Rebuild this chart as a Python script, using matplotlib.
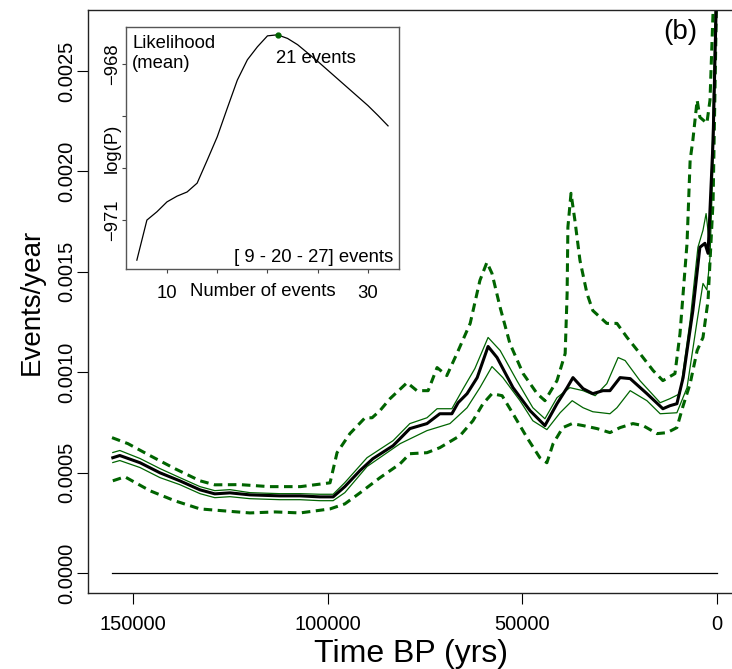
import matplotlib
matplotlib.use("Agg")
import matplotlib.pyplot as plt
import numpy as np

plt.rcParams["font.family"] = ["Liberation Sans", "DejaVu Sans"]

# ── main panel data (time in kyr BP, rate in 1e-3 events/yr) ──
mean_t = [155.2, 153.4, 148.2, 143.1, 138.0, 132.8, 129.0, 125.1, 120.0, 112.3, 107.1, 102.0,
          98.6, 95.6, 91.7, 88.4, 83.2, 78.9, 74.5, 71.2, 68.1, 66.5, 64.2, 61.6, 58.8, 56.5,
          52.4, 48.0, 44.2, 41.1, 38.5, 37.0, 34.4, 31.9, 29.3, 27.5, 24.9, 22.3, 18.0, 13.9,
          12.1, 10.3, 8.7, 6.2, 4.4, 3.1, 2.3, 1.0, 0.0]
mean_v = [0.574, 0.585, 0.549, 0.499, 0.459, 0.414, 0.394, 0.399, 0.389, 0.384, 0.384, 0.379,
          0.379, 0.430, 0.510, 0.569, 0.634, 0.719, 0.744, 0.793, 0.793, 0.848, 0.893, 0.973,
          1.128, 1.073, 0.923, 0.808, 0.734, 0.843, 0.923, 0.973, 0.918, 0.893, 0.908, 0.908,
          0.973, 0.968, 0.893, 0.818, 0.833, 0.843, 0.973, 1.307, 1.622, 1.642, 1.592, 2.156, 3.0]

hi_t = [155.2, 153.4, 148.2, 143.1, 138.0, 132.8, 129.0, 125.1, 120.0, 112.3, 107.1, 102.0,
        98.6, 95.6, 89.9, 83.2, 78.9, 74.5, 71.9, 68.1, 65.2, 62.2, 58.8, 55.7, 51.4, 47.3,
        44.2, 41.1, 37.8, 34.4, 31.3, 28.3, 25.4, 23.6, 19.8, 14.6, 12.1, 9.5, 6.9, 4.9, 3.6,
        2.8, 2.0, 1.3, 0.0]
hi_v = [0.600, 0.610, 0.570, 0.520, 0.475, 0.430, 0.410, 0.415, 0.400, 0.395, 0.395, 0.392,
        0.392, 0.450, 0.574, 0.659, 0.744, 0.773, 0.818, 0.818, 0.918, 1.018, 1.173, 1.108,
        0.958, 0.823, 0.768, 0.873, 0.923, 0.908, 0.883, 0.943, 1.073, 1.058, 0.958, 0.848,
        0.868, 0.893, 1.257, 1.622, 1.707, 1.790, 1.650, 2.060, 3.2]

lo_t = [155.2, 153.4, 148.2, 143.1, 138.0, 132.8, 129.0, 125.1, 120.0, 112.3, 107.1, 102.0,
        98.6, 95.6, 89.9, 81.4, 74.5, 68.6, 64.2, 60.9, 57.8, 55.0, 50.6, 47.3, 43.7, 40.3,
        37.2, 34.4, 31.9, 27.5, 25.7, 22.3, 18.0, 14.6, 10.3, 7.7, 5.1, 3.6, 2.6, 1.8, 1.0, 0.0]
lo_v = [0.550, 0.560, 0.525, 0.475, 0.440, 0.395, 0.375, 0.380, 0.370, 0.365, 0.365, 0.360,
        0.360, 0.400, 0.530, 0.644, 0.709, 0.744, 0.823, 0.923, 1.028, 0.973, 0.858, 0.758,
        0.714, 0.798, 0.858, 0.823, 0.803, 0.793, 0.823, 0.908, 0.858, 0.793, 0.798, 0.923,
        1.257, 1.442, 1.410, 1.570, 2.060, 3.0]

up_t = [155.4, 151.3, 145.6, 139.2, 132.8, 129.0, 122.5, 115.0, 107.0, 101.0, 99.4, 97.6,
        94.3, 90.4, 88.6, 86.6, 84.0, 79.6, 77.1, 74.2, 71.9, 69.4, 66.8, 63.4, 60.9, 59.1,
        57.8, 55.7, 53.2, 49.8, 46.2, 44.2, 41.1, 39.0, 38.5, 38.3, 37.5, 36.5, 35.2, 33.4,
        31.9, 28.3, 25.7, 23.1, 19.8, 16.4, 13.9, 10.8, 9.5, 7.7, 6.9, 6.2, 5.1, 4.4, 2.6,
        1.8, 1.0, 0.0]
up_v = [0.674, 0.644, 0.584, 0.519, 0.459, 0.439, 0.440, 0.430, 0.430, 0.445, 0.449, 0.599,
        0.694, 0.773, 0.773, 0.808, 0.868, 0.948, 0.908, 0.908, 1.023, 0.983, 1.093, 1.243,
        1.457, 1.547, 1.492, 1.322, 1.143, 0.993, 0.893, 0.858, 0.958, 1.093, 1.392, 1.722,
        1.891, 1.756, 1.557, 1.392, 1.307, 1.243, 1.243, 1.173, 1.093, 1.008, 0.958, 0.993,
        1.193, 1.642, 2.056, 2.156, 2.355, 2.270, 2.240, 2.355, 2.800, 3.5]

dn_t = [155.2, 152.1, 145.6, 139.2, 132.8, 126.4, 120.0, 113.5, 107.1, 99.4, 95.6, 91.7,
        86.6, 81.4, 78.9, 74.5, 71.2, 66.0, 62.7, 60.1, 57.8, 55.2, 52.4, 48.8, 45.5, 43.7,
        42.1, 39.6, 37.2, 34.4, 30.8, 27.5, 24.9, 21.6, 19.0, 15.4, 12.8, 10.3, 8.7, 6.9,
        5.1, 3.6, 2.3, 1.0, 0.0]
dn_v = [0.459, 0.479, 0.409, 0.359, 0.319, 0.309, 0.299, 0.304, 0.299, 0.319, 0.344, 0.399,
        0.474, 0.544, 0.594, 0.599, 0.624, 0.684, 0.758, 0.843, 0.893, 0.883, 0.793, 0.674,
        0.574, 0.549, 0.644, 0.724, 0.744, 0.734, 0.719, 0.699, 0.724, 0.744, 0.734, 0.694,
        0.699, 0.724, 0.833, 0.943, 1.108, 1.173, 1.357, 1.856, 3.0]

# ── inset data: mean log-likelihood vs number of events ──
n_events = list(range(7, 33))
loglik = [-971.77, -971.00, -970.84, -970.65, -970.54, -970.46, -970.29, -969.85, -969.40,
          -968.85, -968.31, -967.92, -967.67, -967.46, -967.44, -967.51, -967.63, -967.79,
          -967.95, -968.12, -968.29, -968.46, -968.63, -968.80, -968.99, -969.19]
best_n = 21

GREEN = "#006400"


def yrs(t):
    return np.asarray(t) * 1000.0


def rate(v):
    return np.asarray(v) * 1e-3


fig = plt.figure(figsize=(7.32, 6.69), dpi=100)
ax = fig.add_axes([88 / 732, 76 / 669, 653 / 732, 583 / 669])

ax.plot([155400, 0], [0, 0], color="black", lw=0.9)
ax.plot(yrs(up_t), rate(up_v), color=GREEN, lw=2.2, dashes=(2.8, 1.8))
ax.plot(yrs(dn_t), rate(dn_v), color=GREEN, lw=2.2, dashes=(2.8, 1.8))
ax.plot(yrs(hi_t), rate(hi_v), color=GREEN, lw=0.9)
ax.plot(yrs(lo_t), rate(lo_v), color=GREEN, lw=0.9)
ax.plot(yrs(mean_t), rate(mean_v), color="black", lw=2.2)

ax.set_xlim(161570, -6165)
ax.set_ylim(-0.0000998, 0.002804)
ax.set_xticks([150000, 100000, 50000, 0])
ax.set_xticklabels(["150000", "100000", "50000", "0"])
ax.set_yticks([0, 0.0005, 0.001, 0.0015, 0.002, 0.0025])
ax.set_yticklabels(["0.0000", "0.0005", "0.0010", "0.0015", "0.0020", "0.0025"],
                   rotation=90, va="center")
ax.tick_params(axis="both", direction="out", length=8, width=0.8, labelsize=14.5)
ax.tick_params(axis="x", pad=8)
ax.tick_params(axis="y", pad=0.7)
for s in ax.spines.values():
    s.set_linewidth(1.0)
    s.set_color("#222222")

fig.text(411 / 732, 7 / 669, "Time BP (yrs)", fontsize=23, ha="center", va="baseline")
fig.text(32 / 732, 1 - 302 / 669, "Events/year", fontsize=20, rotation=90,
         ha="center", va="center")
fig.text(680 / 732, 1 - 32 / 669, "(b)", fontsize=20, ha="center", va="center")

# ── inset ──
axi = fig.add_axes([126 / 732, 400 / 669, 273 / 732, 242 / 669])
axi.set_facecolor("white")
axi.plot(n_events, loglik, color="black", lw=0.9)
axi.plot(best_n, loglik[n_events.index(best_n)], "o", color=GREEN, ms=3.5)
axi.set_xlim(5.92, 33.09)
axi.set_ylim(-971.94, -967.29)
axi.set_xticks([10, 15, 20, 25, 30])
axi.set_xticklabels(["10", "", "", "", "30"])
axi.set_yticks([-968, -969, -970, -971])
axi.set_yticklabels(["\u2212968", "", "", "\u2212971"], rotation=90, va="center")
axi.tick_params(axis="both", direction="out", length=3.2, width=0.8, labelsize=13.3,
                color="#444444")
axi.tick_params(axis="x", pad=8)
axi.tick_params(axis="y", pad=0)
for s in axi.spines.values():
    s.set_linewidth(1.0)
    s.set_color("#555555")

axi.text(0.5, -0.095, "Number of events", transform=axi.transAxes, fontsize=13.3,
         ha="center", va="center")
axi.text(-0.051, 0.5, "log(P)", transform=axi.transAxes, fontsize=13.3, rotation=90,
         ha="center", va="center")
axi.text(0.022, 0.913, "Likelihood", transform=axi.transAxes, fontsize=13.3,
         ha="left", va="baseline")
axi.text(0.022, 0.830, "(mean)", transform=axi.transAxes, fontsize=13.3,
         ha="left", va="baseline")
axi.text(20.8, -967.90, "21 events", fontsize=13.3, ha="left", va="center")
axi.text(0.978, 0.029, "[ 9 - 20 - 27] events", transform=axi.transAxes, fontsize=13.3,
         ha="right", va="baseline")

fig.savefig("out.png", dpi=100)
